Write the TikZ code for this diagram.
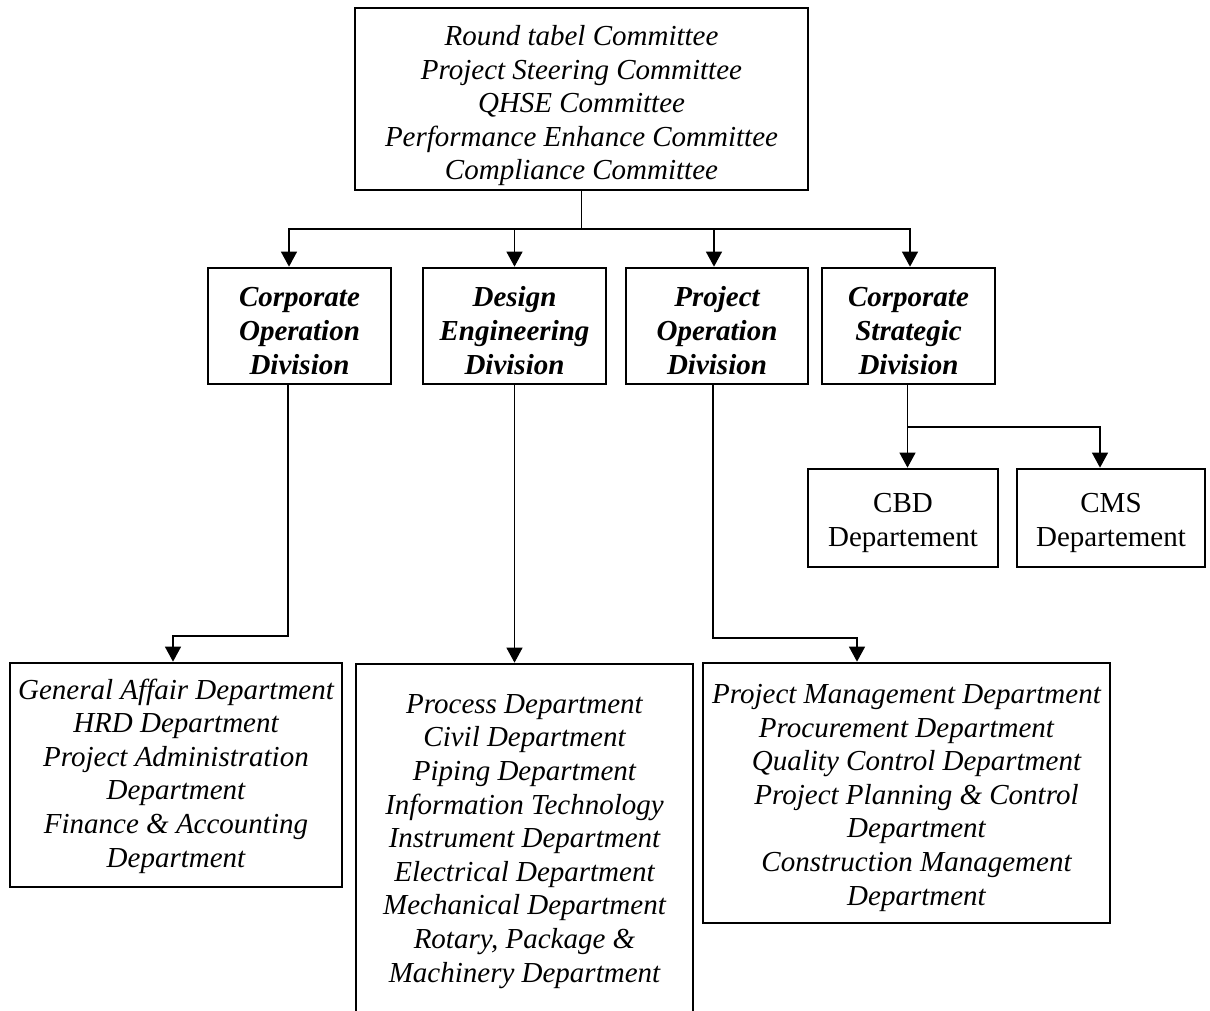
\documentclass[tikz,border=0pt]{standalone}
\usepackage{fontspec}
\setmainfont{Liberation Serif}
\usetikzlibrary{arrows.meta}

% Multi-line text nodes are placed by the baseline of their last line.
\tikzset{
  box/.style={draw, line width=2.7pt, rectangle, inner sep=0pt},
  txt/.style={align=center, inner sep=0pt, anchor=base,
    font=\fontsize{29}{33.6}\selectfont\itshape},
  divtxt/.style={txt, font=\fontsize{29}{34}\selectfont\bfseries\itshape},
  deptxt/.style={txt, font=\fontsize{29}{34}\selectfont},
  conn/.style={line width=1.2pt},
  arr/.style={conn, -{Triangle[length=15pt,width=16pt]}},
}

\begin{document}
\begin{tikzpicture}[x=1pt, y=-1pt]
  \useasboundingbox (0,0) rectangle (1210,1011);
  \fill[white] (0,0) rectangle (1210,1011);

  % committees
  \node[box, minimum width=453pt, minimum height=182pt] (top) at (581.5,99) {};
  \node[txt] (top-t) at (581.5,180) {Round tabel Committee\\Project Steering Committee\\QHSE Committee\\Performance Enhance Committee\\Compliance Committee};

  % divisions
  \node[box, minimum width=183pt, minimum height=116pt] (cod) at (299.5,326) {};
  \node[box, minimum width=183pt, minimum height=116pt] (ded) at (514.5,326) {};
  \node[box, minimum width=182pt, minimum height=116pt] (pod) at (717,326) {};
  \node[box, minimum width=173pt, minimum height=116pt] (csd) at (908.5,326) {};
  \node[divtxt] (cod-t) at (299.5,374) {Corporate\\Operation\\Division};
  \node[divtxt] (ded-t) at (514.5,374) {Design\\Engineering\\Division};
  \node[divtxt] (pod-t) at (717,374) {Project\\Operation\\Division};
  \node[divtxt] (csd-t) at (908.5,374) {Corporate\\Strategic\\Division};

  % strategic departments
  \node[box, minimum width=190pt, minimum height=98pt] (cbd) at (903,518) {};
  \node[box, minimum width=188pt, minimum height=98pt] (cms) at (1111,518) {};
  \node[deptxt] (cbd-t) at (903,546) {CBD\\Departement};
  \node[deptxt] (cms-t) at (1111,546) {CMS\\Departement};

  % department lists
  \node[box, minimum width=332pt, minimum height=224pt] (gad) at (176,775) {};
  \node[txt] (gad-t) at (176,867) {General Affair Department\\HRD Department\\Project Administration\\Department\\Finance \& Accounting\\Department};

  \node[box, minimum width=337pt, minimum height=376pt] (eng) at (524.5,852) {};
  \node[txt] (eng-t) at (524.5,982) {Process Department\\Civil Department\\Piping Department\\Information Technology\\Instrument Department\\Electrical Department\\Mechanical Department\\Rotary, Package \&\\Machinery Department};

  \node[box, minimum width=407pt, minimum height=260pt] (pmd) at (906.5,793) {};
  \node[txt] (pmd-t) at (906.5,905) {Project Management Department\\Procurement Department\\\hspace*{20pt}Quality Control Department\\\hspace*{20pt}Project Planning \& Control\\\hspace*{20pt}Department\\\hspace*{20pt}Construction Management\\\hspace*{20pt}Department};

  % connectors
  \coordinate (bus) at (581.5,229);
  \draw[conn] (top.south) -- (bus);
  \draw[arr] (bus) -| ([xshift=-10.5pt]cod.north);
  \draw[arr] (bus) -| (ded.north);
  \draw[arr] (bus) -| ([xshift=-3pt]pod.north);
  \draw[arr] (bus) -| ([xshift=1.5pt]csd.north);

  \coordinate (j1) at (288,636);
  \draw[arr] (cod.south -| j1) -- (j1) -| ([xshift=-3pt]gad.north);

  \draw[arr] (ded.south) -- (ded.south |- eng.north);

  \coordinate (j2) at (713,638);
  \draw[arr] (pod.south -| j2) -- (j2) -| ([xshift=-49.5pt]pmd.north);

  \coordinate (j3) at (907.5,427);
  \draw[conn] (csd.south -| j3) -- (j3);
  \draw[arr] (j3) -- (j3 |- cbd.north);
  \draw[arr] (j3) -| ([xshift=-11pt]cms.north);
\end{tikzpicture}
\end{document}
